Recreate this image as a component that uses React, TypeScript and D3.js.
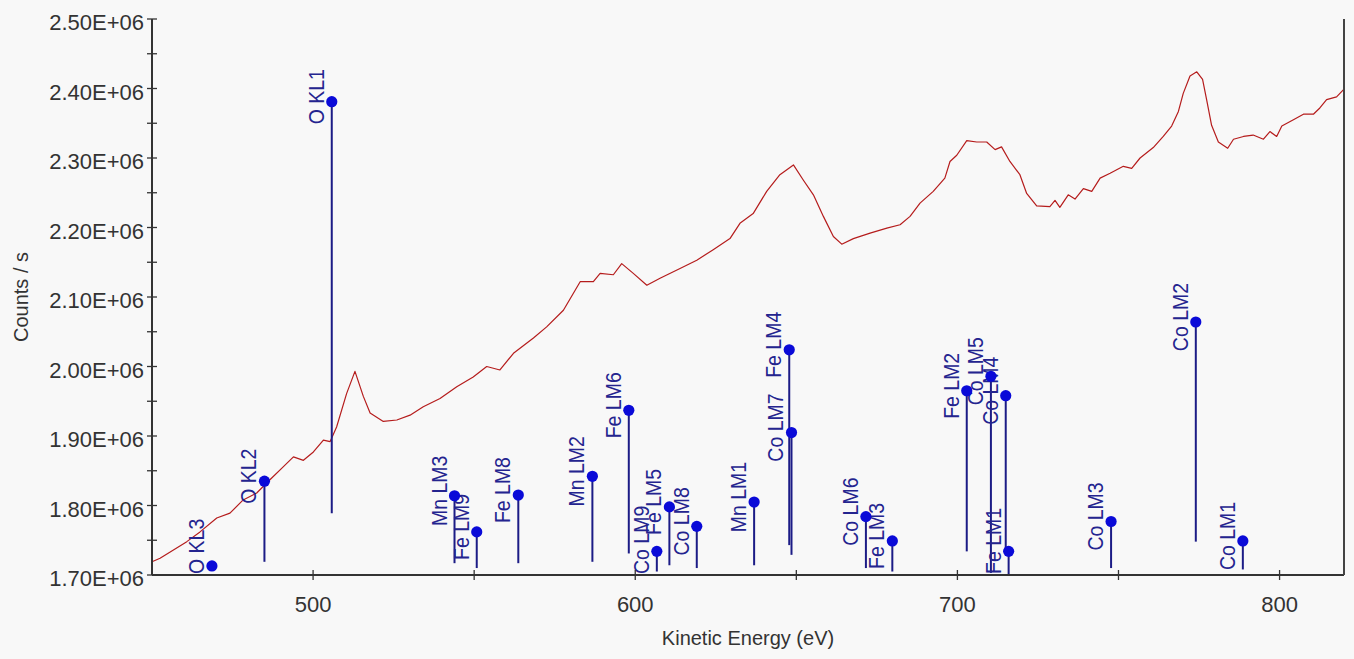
import React from "react";
import * as d3 from "d3";

// Background spectrum (kinetic energy in eV, counts/s in units of 1E+06)
const curveEnergy = [
  450.0, 452.5, 460.8, 464.9, 470.1, 474.2, 478.3, 482.5, 486.6, 490.8, 493.9, 497.0, 500.1, 503.2, 505.3,
  507.3, 510.4, 513.0, 515.6, 517.7, 521.8, 526.0, 530.1, 534.2, 539.4, 544.6, 549.7, 553.9, 558.0, 562.2,
  568.4, 572.5, 577.7, 582.9, 587.0, 589.1, 593.2, 595.8, 599.4, 603.6, 607.7, 613.9, 619.1, 624.2, 629.4,
  632.5, 636.6, 640.8, 644.9, 649.1, 652.2, 655.3, 658.4, 661.5, 664.1, 667.7, 672.9, 678.1, 682.2, 685.3,
  688.4, 692.5, 696.1, 697.7, 699.8, 702.9, 706.0, 709.1, 711.7, 713.7, 716.3, 719.4, 721.5, 724.6, 728.7,
  730.3, 731.8, 734.4, 736.5, 739.1, 741.7, 744.3, 747.4, 751.5, 754.1, 756.7, 760.8, 763.9, 766.5, 768.6,
  770.1, 772.2, 774.3, 776.1, 777.4, 778.9, 781.0, 783.9, 785.7, 788.8, 791.8, 795.0, 797.0, 799.1, 800.7,
  804.3, 807.4, 810.5, 812.5, 814.6, 817.7, 820.0,
];
const curveCounts = [
  1.719, 1.724, 1.748, 1.762, 1.782, 1.789, 1.808, 1.818, 1.837, 1.856, 1.870, 1.865, 1.877, 1.894, 1.892,
  1.913, 1.961, 1.993, 1.957, 1.933, 1.921, 1.923, 1.930, 1.942, 1.954, 1.971, 1.985, 2.000, 1.995, 2.019,
  2.041, 2.057, 2.081, 2.122, 2.122, 2.134, 2.132, 2.148, 2.134, 2.117, 2.127, 2.141, 2.153, 2.168, 2.184,
  2.206, 2.220, 2.252, 2.276, 2.290, 2.268, 2.247, 2.216, 2.187, 2.176, 2.184, 2.192, 2.199, 2.204, 2.216,
  2.235, 2.252, 2.271, 2.295, 2.304, 2.325, 2.323, 2.323, 2.312, 2.316, 2.295, 2.276, 2.249, 2.231, 2.230,
  2.239, 2.229, 2.247, 2.241, 2.256, 2.252, 2.271, 2.278, 2.288, 2.285, 2.300, 2.315, 2.331, 2.346, 2.367,
  2.393, 2.418, 2.424, 2.413, 2.383, 2.347, 2.323, 2.314, 2.327, 2.331, 2.333, 2.327, 2.338, 2.331, 2.346,
  2.355, 2.363, 2.363, 2.372, 2.384, 2.388, 2.399,
];

// Peak markers
const peakLabels = [
  "O KL3", "O KL2", "O KL1", "Mn LM3", "Fe LM9", "Fe LM8", "Mn LM2", "Fe LM6", "Co LM9", "Fe LM5", "Co LM8",
  "Mn LM1", "Fe LM4", "Co LM7", "Co LM6", "Fe LM3", "Fe LM2", "Co LM5", "Co LM4", "Fe LM1", "Co LM3", "Co LM2",
  "Co LM1",
];
const peakEnergy = [
  468.6, 484.9, 505.8, 543.9, 550.8, 563.7, 586.7, 598.0, 606.7, 610.6, 619.1,
  636.9, 647.8, 648.5, 671.6, 679.8, 702.9, 710.4, 715.0, 715.9, 747.7, 774.0, 788.6,
];
const peakTop = [
  1.713, 1.835, 2.381, 1.814, 1.762, 1.815, 1.842, 1.937, 1.734, 1.798, 1.770,
  1.805, 2.024, 1.905, 1.784, 1.749, 1.965, 1.986, 1.958, 1.734, 1.777, 2.064, 1.749,
];
const peakBase = [
  1.713, 1.719, 1.789, 1.717, 1.710, 1.717, 1.719, 1.731, 1.705, 1.714, 1.710,
  1.714, 1.743, 1.729, 1.710, 1.705, 1.734, 1.703, 1.735, 1.700, 1.710, 1.748, 1.708,
];

const xMajorTicks = [500, 600, 700, 800];
const xMinorTicks = [500, 550, 600, 650, 700, 750, 800];
const yMajorTicks = [1.7, 1.8, 1.9, 2.0, 2.1, 2.2, 2.3, 2.4, 2.5];
const yMinorTicks = [1.7, 1.75, 1.8, 1.85, 1.9, 1.95, 2.0, 2.05, 2.1, 2.15, 2.2, 2.25, 2.3, 2.35, 2.4, 2.45, 2.5];

const W = 1354;
const H = 659;
const M = { left: 152, right: 1344, top: 19, bottom: 575 };
const FONT = "'Liberation Sans', Arial, sans-serif";

export default function App() {
  const x = d3.scaleLinear().domain([450, 820]).range([M.left, M.right]);
  const y = d3.scaleLinear().domain([1.7, 2.5]).range([M.bottom, M.top]);
  const pts = curveEnergy.map((e, i) => [e, curveCounts[i]] as [number, number]);
  const line = d3
    .line<[number, number]>()
    .x((d) => x(d[0]))
    .y((d) => y(d[1]));

  const labelFs = 19.5;
  const measure = (s: string) => {
    const w: Record<string, number> = {
      O: 0.778, K: 0.667, L: 0.556, M: 0.833, C: 0.722, F: 0.611, e: 0.556, n: 0.556, o: 0.556, " ": 0.278,
    };
    let t = 0;
    for (const ch of s) t += w[ch] ?? 0.556;
    return t * labelFs;
  };

  return (
    <div style={{ position: "absolute", left: 0, top: 0, width: W, height: H }}>
      <svg width={W} height={H} style={{ display: "block" }} fontFamily={FONT}>
        <rect x={0} y={0} width={W} height={H} fill="#f8f8f8" />

        {/* curve */}
        <path d={line(pts) ?? ""} fill="none" stroke="#b51c1c" strokeWidth={1.2} strokeLinejoin="round" />

        {/* peak stems */}
        {peakLabels.map((lab, i) => (
          <line
            key={"s" + lab}
            x1={x(peakEnergy[i])}
            x2={x(peakEnergy[i])}
            y1={y(peakTop[i])}
            y2={y(peakBase[i])}
            stroke="#1c1c86"
            strokeWidth={2}
          />
        ))}
        {/* peak labels */}
        {peakLabels.map((lab, i) => {
          const len = measure(lab);
          let cy = y(peakTop[i]) - 5;
          if (cy + len / 2 > M.bottom - 1) cy = M.bottom - 1 - len / 2;
          const bx = x(peakEnergy[i]) - 8;
          return (
            <text
              key={"t" + lab}
              transform={`translate(${bx},${cy}) rotate(-90) scale(1,1.1)`}
              textAnchor="middle"
              fontSize={labelFs}
              fill="#24248f"
            >
              {lab}
            </text>
          );
        })}
        {/* peak markers */}
        {peakLabels.map((lab, i) => (
          <circle key={"c" + lab} cx={x(peakEnergy[i])} cy={y(peakTop[i])} r={5.6} fill="#0a0ad8" />
        ))}

        {/* axes */}
        <line x1={M.left} x2={M.left} y1={M.top} y2={M.bottom} stroke="#333" strokeWidth={2} />
        <line x1={M.left} x2={M.right} y1={M.bottom} y2={M.bottom} stroke="#333" strokeWidth={2} />
        <line x1={M.right} x2={M.right} y1={M.top} y2={M.bottom} stroke="#444" strokeWidth={2} />

        {yMinorTicks.map((t) => (
          <line key={"ym" + t} x1={M.left - 5} x2={M.left + 5} y1={y(t)} y2={y(t)} stroke="#333" strokeWidth={1.3} />
        ))}
        {yMajorTicks.map((t) => (
          <text key={"yl" + t} x={M.left - 8} y={y(t) + 11} textAnchor="end" fontSize={22} fill="#333">
            {`${t.toFixed(2)}E+06`}
          </text>
        ))}
        {xMinorTicks.map((t) => (
          <line key={"xm" + t} x1={x(t)} x2={x(t)} y1={M.bottom - 5} y2={M.bottom + 5} stroke="#333" strokeWidth={1.3} />
        ))}
        {xMajorTicks.map((t) => (
          <text key={"xl" + t} x={x(t)} y={612} textAnchor="middle" fontSize={22} fill="#333">
            {t}
          </text>
        ))}

        <text x={(M.left + M.right) / 2} y={645} textAnchor="middle" fontSize={20} fill="#333">
          Kinetic Energy (eV)
        </text>
        <text transform={`translate(28,${(M.top + M.bottom) / 2}) rotate(-90)`} textAnchor="middle" fontSize={20} fill="#333">
          Counts / s
        </text>
      </svg>
    </div>
  );
}
